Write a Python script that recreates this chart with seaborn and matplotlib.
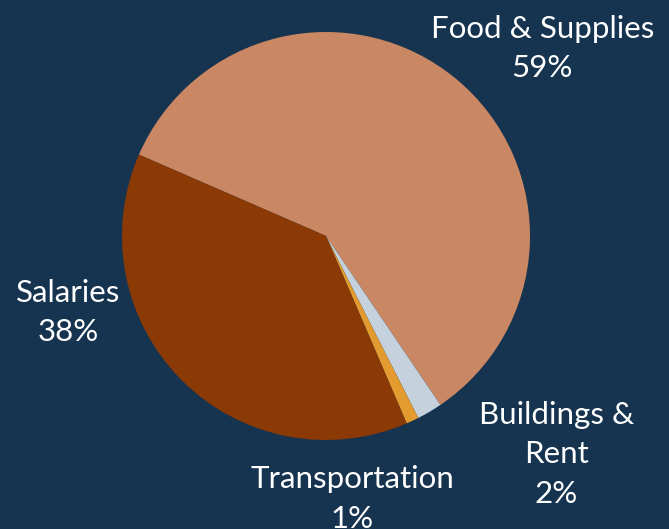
import matplotlib
matplotlib.use("Agg")
import matplotlib.pyplot as plt
import seaborn as sns

# ----- Data -----
categories = ["Food & Supplies", "Buildings & Rent", "Transportation", "Salaries"]
label_text = ["Food & Supplies", "Buildings &\nRent", "Transportation", "Salaries"]
shares = [59, 2, 1, 38]
colors = ["#C98763", "#C5D2DE", "#E39A2E", "#8B3A06"]

# label anchor points (pie radius = 1)
label_pos = [(1.06, 0.92), (1.13, -1.07), (0.13, -1.29), (-1.265, -0.375)]

bg = "#16334F"

sns.set_style("white")
plt.rcParams["font.family"] = ["Lato", "DejaVu Sans"]

fig = plt.figure(figsize=(6.69, 5.29), dpi=100, facecolor=bg)
ax = fig.add_axes([0, 0, 1, 1])
ax.set_facecolor(bg)

ax.pie(shares, colors=sns.color_palette(colors), startangle=156.5,
       counterclock=False, radius=1, center=(0, 0),
       wedgeprops=dict(linewidth=0))

for txt, pct, (x, y) in zip(label_text, shares, label_pos):
    ax.text(x, y, f"{txt}\n{pct}%", color="white", fontsize=22.5,
            ha="center", va="center", linespacing=1.5)

ax.set_xlim(-326 / 204, (669 - 326) / 204)
ax.set_ylim((236 - 529) / 204, 236 / 204)
ax.set_aspect("equal")
ax.axis("off")

fig.savefig("out.png", dpi=100, facecolor=bg)
